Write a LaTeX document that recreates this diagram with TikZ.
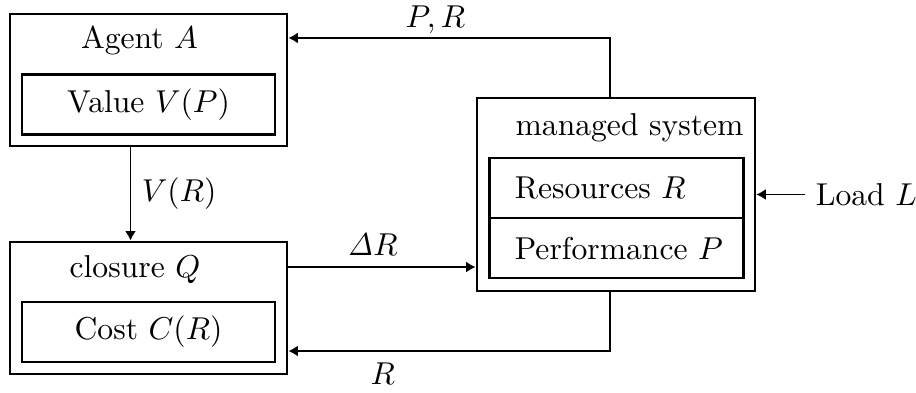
\documentclass[tikz,border=0pt]{standalone}
\usepackage{amsmath,amssymb}
\usepackage{tikz}
\usetikzlibrary{arrows.meta,positioning,calc}

\begin{document}
\begin{tikzpicture}[
  outer/.style={draw, thick, inner sep=0pt},
  inner/.style={draw, thick, minimum width=2.81cm, minimum height=0.67cm},
  part/.style={draw, thick, text width=2.26cm, align=left, inner xsep=0.28cm, inner ysep=0pt, minimum height=0.667cm},
  title/.style={inner sep=0pt},
  arr/.style={-{Latex[length=3pt,width=3.5pt]}, semithick},
  back/.style={-{Latex[length=3pt,width=3.5pt]}, thick}
]
\useasboundingbox (0,0) rectangle (10.178,-4.356);
\node[outer, minimum width=3.08cm, minimum height=1.47cm] (agent) at (1.65,-0.889) {};
\node[title] (atitle) at (1.55,-0.444) {Agent $A$};
\node[inner] (value) at (1.65,-1.161) {Value $V(P)$};
\node[outer, minimum width=3.08cm, minimum height=1.47cm] (closure) at (1.65,-3.422) {};
\node[title] (ctitle) at (1.5,-2.99) {closure $Q$};
\node[inner] (cost) at (1.65,-3.689) {Cost $C(R)$};
\node[outer, minimum width=3.09cm, minimum height=2.144cm] (managed) at (6.844,-2.161) {};
\node[title, anchor=west] (mtitle) at (5.722,-1.42) {managed system};
\node[part] (res) at (6.85,-2.089) {\mbox{Resources $R$}};
\node[part] (perf) at (6.85,-2.756) {\mbox{Performance $P$}};
\node[anchor=west] (load) at (8.94,-2.161) {Load $L$};
\coordinate (top) at (6.78,-0.422);
\coordinate (bot) at (6.78,-3.9);
\draw[arr] ([xshift=-0.2cm]agent.south) -- node[right] {$V(R)$} ([xshift=-0.2cm]closure.north);
\draw[arr] (closure.east |- 0,-2.967) -- node[above, pos=0.45] {$\mathit{\Delta} R$} (managed.west |- 0,-2.967);
\draw[arr] (load.west) -- (managed.east);
\draw[back] (top |- managed.north) -- (top) -- node[pos=0.543, anchor=base, yshift=0.12cm] {$P,R$} (agent.east |- top);
\draw[back] (bot |- managed.south) -- (bot) -- node[below, pos=0.707] {$R$} (closure.east |- bot);
\end{tikzpicture}
\end{document}
